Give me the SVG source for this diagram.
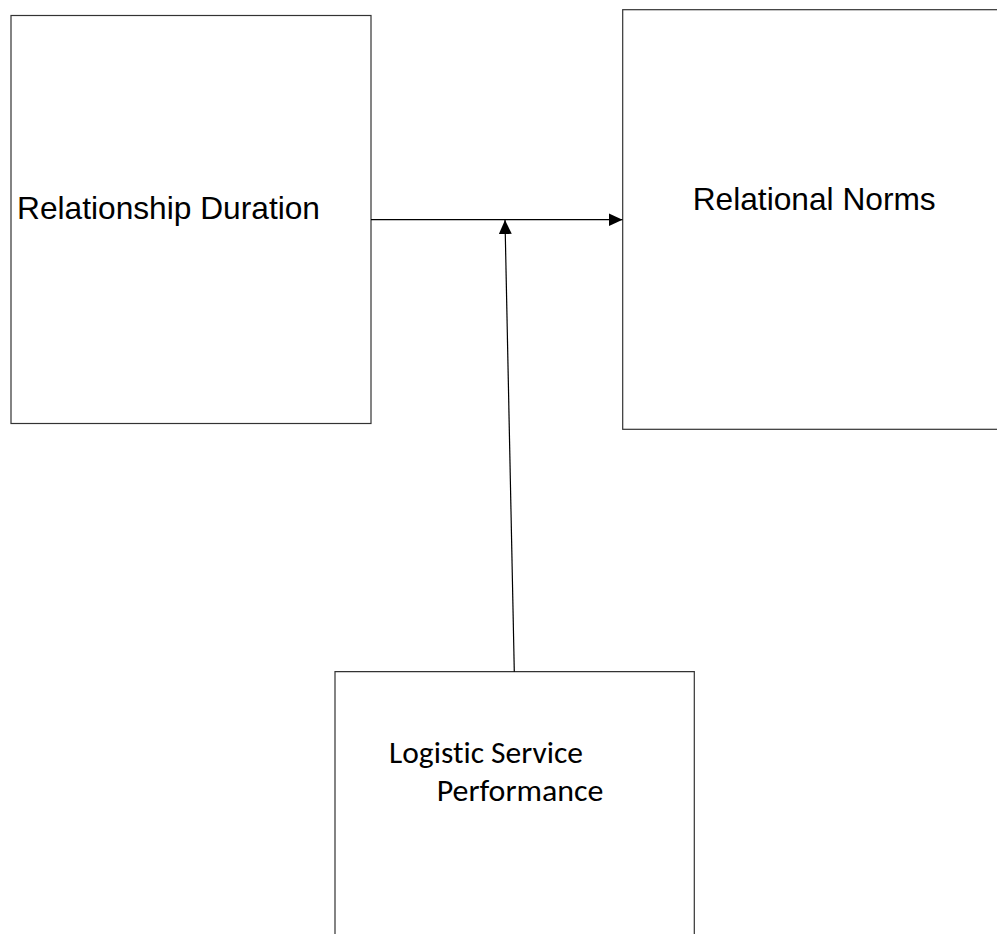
<svg xmlns="http://www.w3.org/2000/svg" width="997" height="934" viewBox="0 0 997 934">
<style>
.box{fill:#fff;stroke:#333;stroke-width:1.2}
.t1{font-family:"Liberation Sans",Arial,sans-serif;font-size:31.7px;fill:#000}
.t2{font-family:Carlito,Lato,sans-serif;font-size:30px;fill:#000;font-variant-ligatures:none}
.conn{stroke:#000;stroke-width:1.2;fill:none}
</style>
<defs>
<marker id="arr" viewBox="0 0 14 13" refX="14" refY="6.5" markerWidth="14" markerHeight="13" markerUnits="userSpaceOnUse" orient="auto">
<path d="M0,0 L14,6.5 L0,13 Z" fill="#000"/>
</marker>
</defs>
<rect width="997" height="934" fill="#fff"/>
<g id="node-duration">
<rect class="box" x="11" y="15.5" width="360" height="408"/>
<text class="t1" x="17" y="219">Relationship Duration</text>
</g>
<g id="node-norms">
<rect class="box" x="622.7" y="9.7" width="380" height="419.6"/>
<text class="t1" x="692.7" y="210">Relational Norms</text>
</g>
<g id="node-performance">
<path class="box" d="M335,940 V671.7 H694.3 V940"/>
<text class="t2" x="389" y="763" textLength="194" lengthAdjust="spacingAndGlyphs">Logistic Service</text>
<text class="t2" x="436.7" y="801" textLength="166.7" lengthAdjust="spacingAndGlyphs">Performance</text>
</g>
<g id="connectors">
<line class="conn" x1="371" y1="219.7" x2="622.5" y2="219.7" marker-end="url(#arr)"/>
<line class="conn" x1="514.3" y1="671.7" x2="505" y2="220" marker-end="url(#arr)"/>
</g>
</svg>
